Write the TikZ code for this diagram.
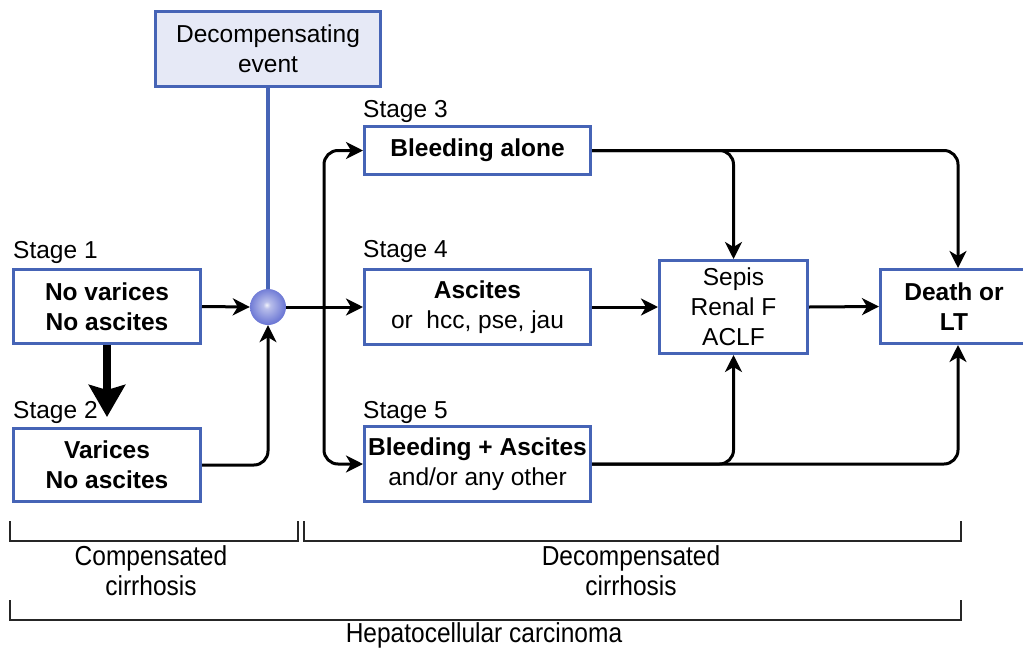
\documentclass[tikz,border=0pt]{standalone}
\usepackage{fontspec}
\usepackage{graphicx}
\setmainfont{Liberation Sans}
\usetikzlibrary{arrows.meta,calc}
\definecolor{bbord}{RGB}{70,100,182}
\definecolor{lav}{RGB}{230,233,246}
\definecolor{ballc}{RGB}{78,92,204}
\pgfdeclareradialshading{myball}{\pgfpoint{-2bp}{3bp}}{color(0bp)=(white!92!ballc); color(5bp)=(white!60!ballc); color(26bp)=(white!15!ballc); color(42bp)=(ballc); color(50bp)=(ballc!80!black)}
\newcommand{\tallt}[1]{\scalebox{1}[1.12]{#1}}
\begin{document}
\begin{tikzpicture}[x=1pt,y=-1pt,
  box/.style={draw=bbord,line width=3.4pt,inner sep=1pt,align=center,font=\fontsize{24.5}{30}\selectfont},
  bbox/.style={box,font=\fontsize{24.5}{30}\selectfont\bfseries},
  lbl/.style={inner sep=0pt,anchor=base west,font=\fontsize{24.5}{30}\selectfont},
  txt/.style={inner sep=0pt,align=center,font=\fontsize{24.5}{30}\selectfont},
  tip/.tip={Stealth[length=17pt,width=17pt,inset=5pt]},
  arr/.style={line width=3pt,-tip},
  arrb/.style={line width=3pt,tip-tip},
  brk/.style={line width=2.2pt,black!85}]
\useasboundingbox (0,0) rectangle (1023,651);

% boxes
\node[box,fill=lav,minimum width=224.6pt,minimum height=74.6pt] (dec) at (268,49) {Decompensating\\event};
\node[bbox,minimum width=186.6pt,minimum height=73.6pt] (b1) at (107,306.5) {No varices\\No ascites};
\node[bbox,minimum width=186.6pt,minimum height=72.6pt] (b2) at (107,465) {Varices\\No ascites};
\node[bbox,minimum width=225.6pt,minimum height=47.6pt] (b3) at (477.5,150.5) {Bleeding alone};
\node[box,minimum width=225.6pt,minimum height=74.6pt] (b4) at (477.5,307) {\textbf{Ascites}\\or\ \ hcc, pse, jau};
\node[box,minimum width=225.6pt,minimum height=74.6pt] (b5) at (477.5,464) {\textbf{Bleeding + Ascites}\\and/or any other};
\node[box,minimum width=147.6pt,minimum height=92.6pt] (sep) at (733.5,307) {Sepis\\Renal F\\ACLF};
\node[bbox,minimum width=146.6pt,minimum height=73.6pt] (dth) at (954,306.5) {Death or\\LT};

% circle
\node[circle,minimum size=36pt,inner sep=0pt,shading=myball] (c) at (268,307) {};

% stage labels
\node[lbl] (s1) at (13,258) {Stage 1};
\node[lbl] (s2) at (13,418) {Stage 2};
\node[lbl] (s3) at (363,117) {Stage 3};
\node[lbl] (s4) at (363,257) {Stage 4};
\node[lbl] (s5) at (363,418) {Stage 5};

% connectors
\draw[bbord,line width=3.2pt] (dec.south) -- (c.north);
\draw[arr] (b1.east) -- (c.west);
\draw[arr,rounded corners=14pt] (b2.east) -| (c.south);
\draw[arr] (c.east) -- (b4.west);
\draw[arrb,rounded corners=14pt] (b3.west) -- ++(-39,0) |- (b5.west);
\draw[arr,rounded corners=14pt] (b3.east) -| (sep.north);
\draw[arr,rounded corners=14pt] (b3.east) -| ([xshift=4pt]dth.north);
\draw[arr] (b4.east) -- (sep.west);
\draw[arr] (sep.east) -- (dth.west);
\draw[arr,rounded corners=14pt] (b5.east) -| (sep.south);
\draw[arr,rounded corners=14pt] (b5.east) -| ([xshift=4pt]dth.south);

\coordinate (tk) at (107,417);
\draw[line width=7.5pt,-{Stealth[length=32pt,width=36pt,inset=5pt]}] (b1.south) -- (tk);

% brackets
\draw[brk] (10,521) -- (10,541) -- (298,541) -- (298,521);
\draw[brk] (304,521) -- (304,541) -- (961,541) -- (961,521);
\draw[brk] (10,600) -- (10,620) -- (961,620) -- (961,600);
\node[txt] (cc) at (151,571) {\tallt{Compensated}\\\tallt{cirrhosis}};
\node[txt] (dc) at (631,571) {\tallt{Decompensated}\\\tallt{cirrhosis}};
\node[txt] (hc) at (484,635) {\tallt{Hepatocellular carcinoma}};
\end{tikzpicture}
\end{document}
